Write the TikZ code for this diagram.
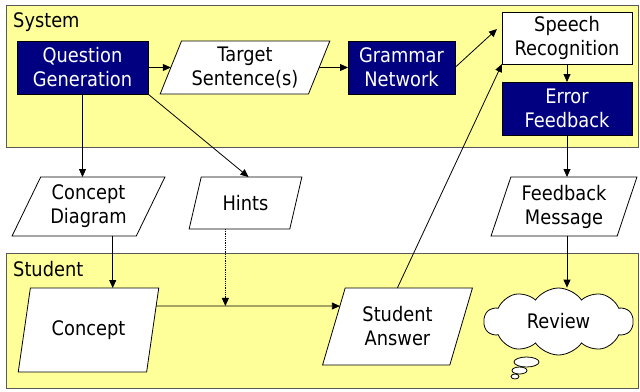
\documentclass[tikz,border=0pt]{standalone}
\usepackage{fontspec}
\setmainfont{DejaVu Sans}[FakeStretch=0.89]
\usetikzlibrary{shapes.geometric,shapes.symbols,arrows.meta,calc}
\definecolor{navy}{HTML}{000080}
\definecolor{paleyellow}{HTML}{FFFF99}
\begin{document}
\begin{tikzpicture}[x=1pt,y=-1pt,
  txt/.style={font=\fontsize{20}{24}\selectfont, align=center},
  rectbox/.style={txt, draw=black, line width=0.8pt, inner sep=0pt, outer sep=0pt},
  darkbox/.style={rectbox, fill=navy, text=white},
  whitebox/.style={rectbox, fill=white},
  para/.style={txt, trapezium, draw=black, fill=white, trapezium stretches=true,
    inner sep=0pt, outer sep=0pt, line width=0.8pt},
  arr/.style={-{Triangle[length=8pt,width=7pt]}, line width=0.8pt},
  lane/.style={draw=black!65, fill=paleyellow, line width=1pt}
]
\useasboundingbox (0,0) rectangle (640,391);
% lanes
\draw[lane] (6,5) rectangle (638,147);
\draw[lane] (6,253) rectangle (638,388);
\node[txt, anchor=base west, inner sep=0pt] (syslabel) at (13,27) {System};
\node[txt, anchor=base west, inner sep=0pt] (stulabel) at (13,276) {Student};
% system nodes
\node[darkbox, minimum width=131, minimum height=53] (qg) at (82.5,67.5) {Question\\Generation};
\node[para, trapezium left angle=66.5, trapezium right angle=113.5, minimum width=170, minimum height=53] (ts) at (245,67.5) {Target\\Sentence(s)};
\node[darkbox, minimum width=107, minimum height=53] (gn) at (401.5,67.5) {Grammar\\Network};
\node[whitebox, minimum width=130, minimum height=52] (sr) at (567,38) {Speech\\Recognition};
\node[darkbox, minimum width=130, minimum height=53] (ef) at (567,108.5) {Error\\Feedback};
% middle
\node[para, trapezium left angle=62, trapezium right angle=118, minimum width=153, minimum height=59] (cd) at (88.5,206.5) {Concept\\Diagram};
\node[para, trapezium left angle=68, trapezium right angle=112, minimum width=113, minimum height=52] (hints) at (245.5,203) {Hints};
\node[para, trapezium left angle=70, trapezium right angle=110, minimum width=146, minimum height=59] (fm) at (564,206.5) {Feedback\\Message};
% student nodes
\node[para, trapezium left angle=68, trapezium right angle=112, minimum width=141, minimum height=84] (concept) at (88.5,330) {Concept};
\node[para, trapezium left angle=69, trapezium right angle=111, minimum width=151, minimum height=77] (ans) at (397.5,326.5) {Student\\Answer};
\node[txt, cloud, cloud puffs=10, cloud puff arc=110, aspect=2.2, draw=black, fill=white, line width=0.8pt, minimum width=149, minimum height=67, inner sep=0pt] (rev) at (558.5,321.5) {Review};
\draw[fill=white, line width=0.8pt] (526.5,362) ellipse [x radius=12.5pt, y radius=5pt];
\draw[fill=white, line width=0.8pt] (519.5,370.5) ellipse [x radius=7.5pt, y radius=3.5pt];
\draw[fill=white, line width=0.8pt] (515,376.5) ellipse [x radius=4pt, y radius=2.5pt];
% connectors
\draw[arr] (qg.east) -- ($(ts.top left corner)!0.5!(ts.bottom left corner)$);
\draw[arr] ($(ts.top right corner)!0.5!(ts.bottom right corner)$) -- (gn.west);
\draw[arr] (gn.east) -- ([xshift=-5pt,yshift=9pt]sr.west);
\draw[arr] (sr.south) -- (ef.north);
\draw[arr] (ef.south) -- (ef.south |- fm.top left corner);
\draw[arr] (ef.south |- fm.bottom left corner) -- (ef.south |- rev.north);
\draw[arr] (qg.south) -- (qg.south |- cd.top left corner);
\draw[arr] (qg.south east) -- ($(hints.top left corner)!0.47!(hints.top right corner)$);
\coordinate (cdb) at ($(cd.bottom left corner)!0.81!(cd.bottom right corner)$);
\draw[arr] (cdb) -- (cdb |- concept.top left corner);
\coordinate (cl) at ($(concept.top right corner)!0.214!(concept.bottom right corner)$);
\draw[arr] (cl) -- ($(ans.top left corner)!0.234!(ans.bottom left corner)$);
\coordinate (hb) at ($(hints.bottom left corner)!0.36!(hints.bottom right corner)$);
\draw[arr, densely dotted] (hb) -- (hb |- cl);
\draw[arr] ($(ans.top left corner)!0.41!(ans.top right corner)$) -- (sr.south west);
\end{tikzpicture}
\end{document}
